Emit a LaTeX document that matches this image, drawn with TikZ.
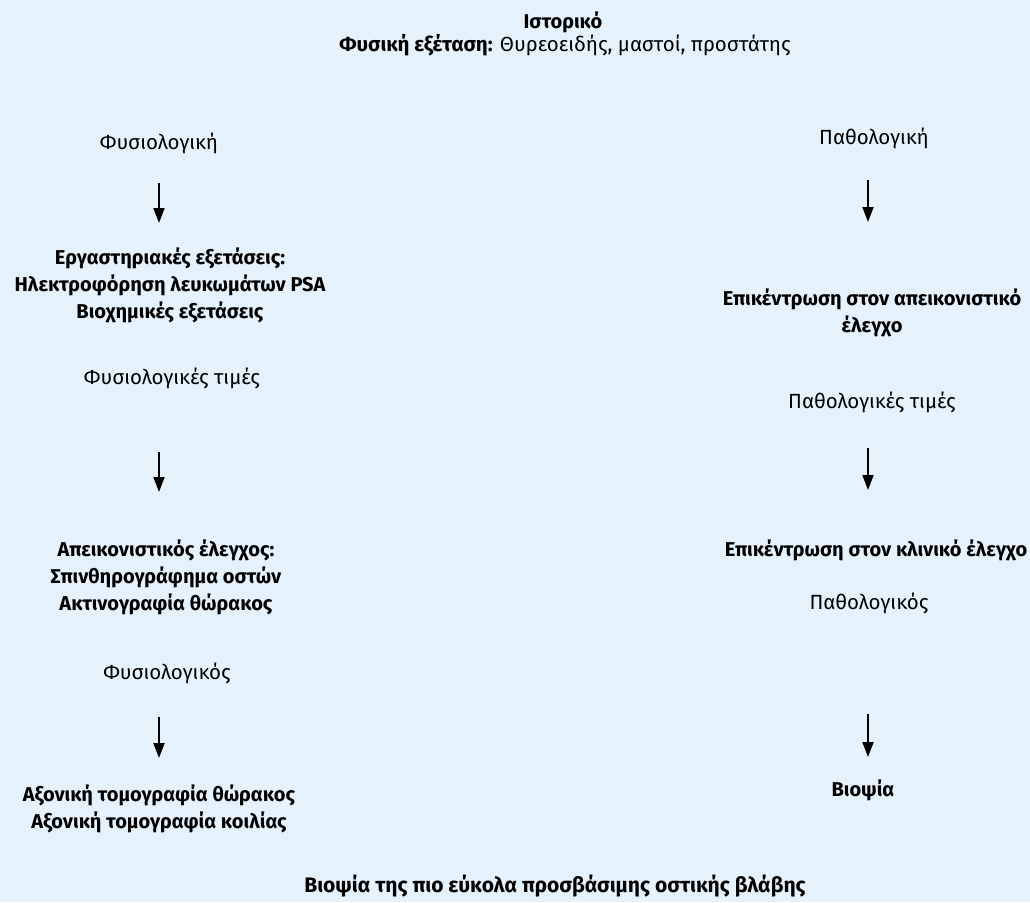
\documentclass[tikz,border=0pt]{standalone}
\usepackage{fontspec}
\setmainfont{Fira Sans}
\usetikzlibrary{arrows.meta}
\definecolor{bg}{RGB}{229,242,252}
\begin{document}
\begin{tikzpicture}[x=1pt,y=-1pt,
  txt/.style={font=\fontsize{20.5}{26}\selectfont, align=center, inner sep=0pt, text=black},
  btxt/.style={font=\fontsize{20}{27}\selectfont\bfseries, align=center, inner sep=0pt, text=black},
  arr/.style={line width=1.8pt, -{Triangle[length=15pt,width=11pt]}}]
\fill[bg] (0,0) rectangle (1030,902);
\useasboundingbox (0,0) rectangle (1030,902);
% top
\node[btxt] (hist) at (563,22) {Ιστορικό};
\node[txt] (exam) at (565,45) {\textbf{Φυσική εξέταση:} Θυρεοειδής, μαστοί, προστάτης};
% left column
\node[txt] (norm) at (159,143) {Φυσιολογική};
\node[btxt] (lab) at (170,285) {Εργαστηριακές εξετάσεις:\\Ηλεκτροφόρηση λευκωμάτων PSA\\Βιοχημικές εξετάσεις};
\node[txt] (normvals) at (172,378) {Φυσιολογικές τιμές};
\node[btxt] (img) at (166,577) {Απεικονιστικός έλεγχος:\\Σπινθηρογράφημα οστών\\Ακτινογραφία θώρακος};
\node[txt] (normfind) at (167,673) {Φυσιολογικός};
\node[btxt] (ct) at (159,809) {Αξονική τομογραφία θώρακος\\Αξονική τομογραφία κοιλίας};
% right column
\node[txt] (abn) at (874,138) {Παθολογική};
\node[btxt] (focimg) at (872,313) {Επικέντρωση στον απεικονιστικό\\έλεγχο};
\node[txt] (abnvals) at (872,402) {Παθολογικές τιμές};
\node[btxt] (foccl) at (876,550) {Επικέντρωση στον κλινικό έλεγχο};
\node[txt] (abnfind) at (869,603) {Παθολογικός};
\node[btxt] (biopsy) at (863,790) {Βιοψία};
% bottom
\node[btxt, font=\fontsize{21}{27}\selectfont\bfseries] (final) at (555,886) {Βιοψία της πιο εύκολα προσβάσιμης οστικής βλάβης};
% arrow end points
\coordinate (l1s) at (159,183); \coordinate (l1e) at (159,223);
\coordinate (l2s) at (159,452); \coordinate (l2e) at (159,492);
\coordinate (l3s) at (159,717); \coordinate (l3e) at (159,758);
\coordinate (r1s) at (868,180); \coordinate (r1e) at (868,222);
\coordinate (r2s) at (868,448); \coordinate (r2e) at (868,490);
\coordinate (r3s) at (868,714); \coordinate (r3e) at (868,757);
\draw[arr] (l1s) -- (l1e);
\draw[arr] (l2s) -- (l2e);
\draw[arr] (l3s) -- (l3e);
\draw[arr] (r1s) -- (r1e);
\draw[arr] (r2s) -- (r2e);
\draw[arr] (r3s) -- (r3e);
\end{tikzpicture}
\end{document}
